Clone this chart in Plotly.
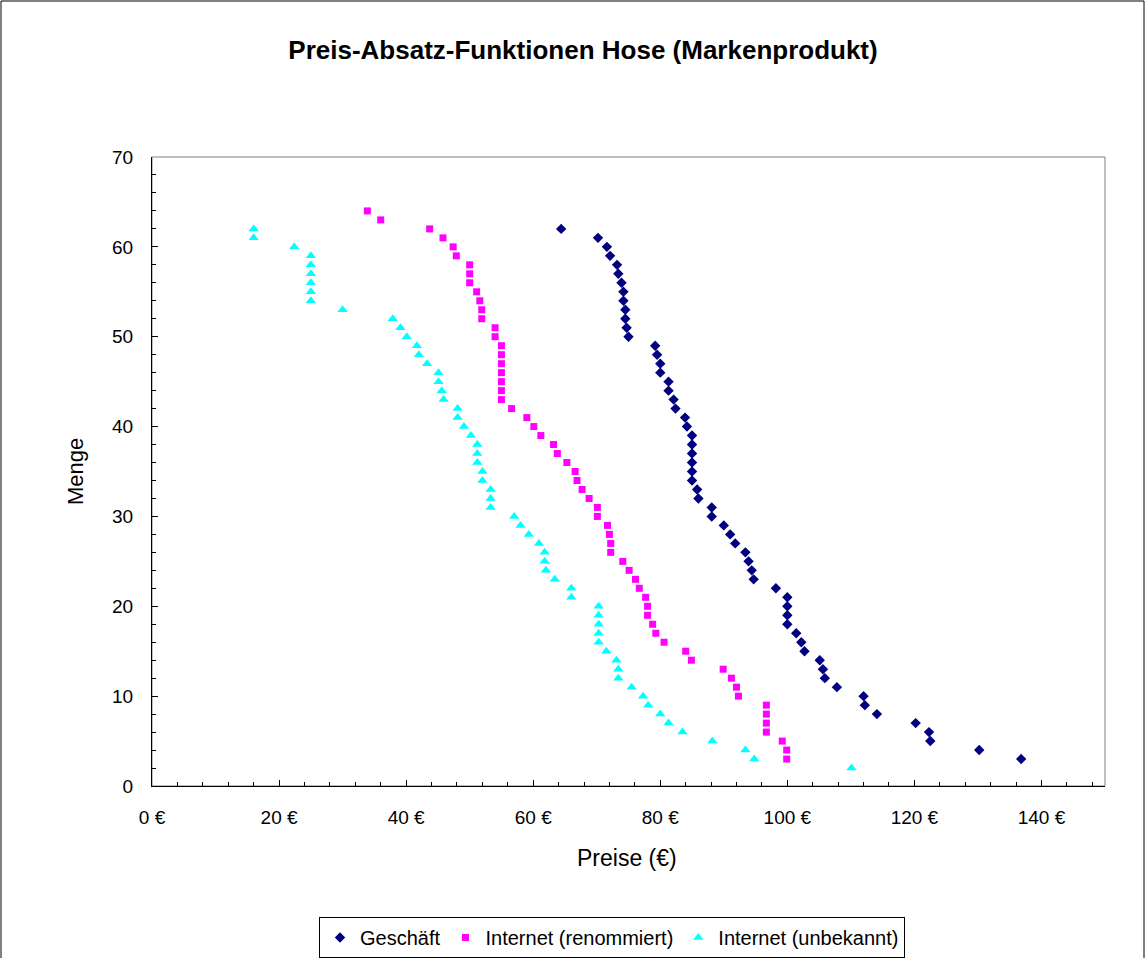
import plotly.graph_objects as go

# Menge (quantity) per series, top to bottom
menge_geschaeft = list(range(62, 2, -1))
menge_renommiert = list(range(64, 2, -1))
menge_unbekannt = list(range(62, 1, -1))

# Preise (EUR), same order as the Menge lists
preis_geschaeft = [
    64.4, 70.2, 71.6, 72.1, 73.2, 73.4, 73.9, 74.2, 74.2, 74.5,
    74.5, 74.7, 75.0, 79.2, 79.5, 80.0, 80.0, 81.3, 81.3, 82.1,
    82.4, 83.9, 84.2, 85.0, 85.0, 85.0, 85.0, 85.0, 85.0, 85.8,
    86.0, 88.1, 88.1, 90.0, 91.0, 91.8, 93.4, 93.9, 94.4, 94.7,
    98.2, 100.0, 100.0, 100.0, 100.0, 101.4, 102.2, 102.7, 105.1, 105.6,
    105.9, 107.8, 112.0, 112.2, 114.1, 120.2, 122.3, 122.5, 130.2, 136.8,
]
preis_renommiert = [
    33.9, 36.0, 43.7, 45.8, 47.4, 47.9, 50.0, 50.0, 50.0, 51.1,
    51.6, 51.9, 51.9, 54.0, 54.0, 55.0, 55.0, 55.0, 55.0, 55.0,
    55.0, 55.0, 56.6, 59.0, 60.1, 61.2, 63.2, 63.8, 65.3, 66.6,
    66.9, 67.7, 68.8, 70.1, 70.1, 71.7, 72.0, 72.2, 72.2, 74.1,
    75.1, 76.1, 76.7, 77.7, 78.0, 78.0, 78.8, 79.3, 80.6, 84.0,
    84.9, 89.9, 91.2, 92.0, 92.3, 96.7, 96.7, 96.7, 96.7, 99.2,
    99.9, 99.9,
]
preis_unbekannt = [
    16.0, 16.0, 22.4, 25.0, 25.0, 25.0, 25.0, 25.0, 25.0, 30.0,
    37.9, 39.1, 40.1, 41.7, 42.0, 43.3, 45.1, 45.1, 45.6, 45.9,
    48.1, 48.1, 49.1, 50.2, 51.2, 51.2, 51.2, 52.0, 52.0, 53.3,
    53.3, 53.3, 57.0, 58.0, 59.3, 60.9, 61.8, 61.8, 62.0, 63.4,
    66.0, 66.0, 70.3, 70.3, 70.3, 70.3, 70.3, 71.5, 73.1, 73.4,
    73.4, 75.5, 77.3, 78.1, 80.0, 81.3, 83.5, 88.2, 93.4, 94.8,
    110.1,
]

FONT = "Liberation Sans, Arial, sans-serif"
W, H = 1146, 958
L, R, T, B = 152, 41, 157, 172
PW, PH = W - L - R, H - T - B


def px(x):
    return (x - L) / PW


def py(y):
    return (H - B - y) / PH


fig = go.Figure()
fig.add_trace(go.Scatter(
    x=preis_geschaeft, y=menge_geschaeft, mode="markers", name="Geschäft",
    marker=dict(symbol="diamond", size=8, color="#000080"),
))
fig.add_trace(go.Scatter(
    x=preis_renommiert, y=menge_renommiert, mode="markers", name="Internet (renommiert)",
    marker=dict(symbol="square", size=7, color="#FF00FF"),
))
fig.add_trace(go.Scatter(
    x=preis_unbekannt, y=menge_unbekannt, mode="markers", name="Internet (unbekannt)",
    marker=dict(symbol="triangle-up", size=9, color="#00FFFF"),
))

fig.update_layout(
    width=W, height=H,
    margin=dict(l=L, r=R, t=T, b=B),
    paper_bgcolor="white", plot_bgcolor="white",
    font=dict(family=FONT, size=19, color="black"),
    title=dict(
        text="<b>Preis-Absatz-Funktionen Hose (Markenprodukt)</b>",
        x=583 / W, xanchor="center", y=1 - 50 / H, yanchor="middle",
        font=dict(size=26),
    ),
    showlegend=True,
    legend=dict(
        orientation="h", xref="container", yref="container",
        x=612 / W, xanchor="center", y=1 - 917 / H, yanchor="top",
        bordercolor="black", borderwidth=1, itemwidth=30,
        font=dict(size=20), tracegroupgap=0,
    ),
    xaxis=dict(
        range=[0, 150], tick0=0, dtick=20, ticksuffix=" €",
        showgrid=False, zeroline=False, showline=True, linecolor="black", linewidth=1,
        ticks="inside", ticklen=6, tickcolor="black",
        minor=dict(dtick=4, ticks="inside", ticklen=4, tickcolor="black", showgrid=False),
        ticklabelstandoff=14,
    ),
    yaxis=dict(
        range=[0, 70], tick0=0, dtick=10,
        showgrid=False, zeroline=False, showline=True, linecolor="black", linewidth=1,
        ticks="inside", ticklen=6, tickcolor="black",
        minor=dict(dtick=2, ticks="inside", ticklen=4, tickcolor="black", showgrid=False),
        ticklabelstandoff=14,
    ),
    annotations=[
        dict(text="Preise (€)", xref="paper", yref="paper",
             x=px(627), y=py(858),
             xanchor="center", yanchor="middle", showarrow=False, font=dict(size=23)),
        dict(text="Menge", xref="paper", yref="paper",
             x=px(75), y=py(472), textangle=-90,
             xanchor="center", yanchor="middle", showarrow=False, font=dict(size=22)),
    ],
    shapes=[
        # plot area frame
        dict(type="rect", xref="paper", yref="paper", x0=0, x1=1, y0=0, y1=1,
             line=dict(color="#808080", width=1), layer="below"),
        # outer chart border
        dict(type="rect", xref="paper", yref="paper",
             x0=px(1), x1=px(1144), y0=py(990), y1=py(1),
             line=dict(color="black", width=1), layer="below"),
    ],
)

fig.write_html(
    "out.html",
    config={"displayModeBar": False},
    post_script="document.body.style.margin = '0';",
)
